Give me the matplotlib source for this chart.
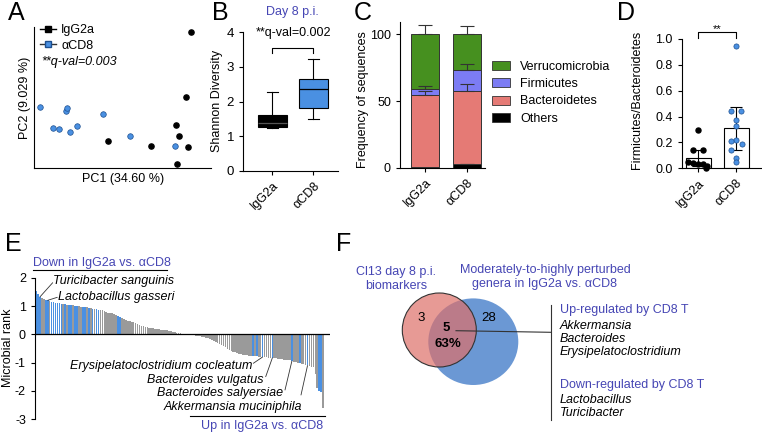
import matplotlib
matplotlib.use("Agg")
import matplotlib.pyplot as plt
from matplotlib.transforms import Affine2D
from matplotlib.patches import Ellipse, Patch
from matplotlib.lines import Line2D

# ---------------- data ----------------
# A: PCoA (scaled axis units)
igg_pc1 = [0.885, 0.859, 0.800, 0.819, 0.420, 0.659, 0.872, 0.810]
igg_pc2 = [0.967, 0.506, 0.305, 0.229, 0.193, 0.156, 0.149, 0.026]
cd8_pc1 = [0.034, 0.181, 0.188, 0.388, 0.109, 0.143, 0.245, 0.203, 0.542, 0.795]
cd8_pc2 = [0.435, 0.404, 0.423, 0.381, 0.286, 0.274, 0.300, 0.253, 0.227, 0.156]

# B: Shannon diversity boxes
groups = ["IgG2a", "αCD8"]
sh_min = [1.22, 1.48]
sh_q1 = [1.27, 1.80]
sh_med = [1.37, 2.35]
sh_q3 = [1.61, 2.65]
sh_max = [2.27, 3.22]

# C: stacked phyla frequencies
phyla = ["Others", "Bacteroidetes", "Firmicutes", "Verrucomicrobia"]
freq_igg = [0.5, 53.8, 4.5, 41.2]
freq_cd8 = [2.5, 55.0, 15.8, 26.7]
err_igg = [0.0, 3.0, 2.7, 7.0]
err_cd8 = [0.5, 5.0, 4.2, 6.3]

# D: Firmicutes/Bacteroidetes ratio
fb_igg = [0.30, 0.14, 0.14, 0.05, 0.04, 0.03, 0.03, 0.02, 0.005]
fb_cd8 = [0.946, 0.44, 0.44, 0.374, 0.327, 0.219, 0.213, 0.186, 0.142, 0.082, 0.046]
fb_mean = [0.08, 0.31]
fb_err = [0.06, 0.165]

# E: microbial ranks
rank = [1.54, 1.42, 1.32, 1.28, 1.25, 1.22, 1.20, 1.17, 1.15,
        1.13, 1.11, 1.10, 1.09, 1.08, 1.07, 1.06, 1.05, 1.04,
        1.03, 1.02, 1.01, 1.00, 0.99, 0.98, 0.97, 0.96, 0.95,
        0.93, 0.92, 0.90, 0.89, 0.88, 0.87, 0.86, 0.85,
        0.82, 0.79, 0.77, 0.76, 0.74, 0.72,
        0.68, 0.65, 0.62, 0.58, 0.55, 0.50,
        0.48, 0.46, 0.44, 0.42, 0.40, 0.37, 0.34, 0.31, 0.29, 0.27,
        0.25, 0.24, 0.22, 0.21, 0.20, 0.19, 0.18, 0.17, 0.16, 0.15, 0.14, 0.13,
        0.11, 0.09, 0.07, 0.05, 0.04, 0.03, 0.02, 0.01,
        -0.01, -0.02, -0.02, -0.03, -0.04, -0.05, -0.06, -0.07, -0.08, -0.10,
        -0.12, -0.14, -0.16, -0.19, -0.22, -0.26, -0.30, -0.34, -0.38,
        -0.42, -0.46, -0.50, -0.54, -0.58, -0.61, -0.64, -0.67, -0.69,
        -0.71, -0.72, -0.73, -0.74, -0.75, -0.76, -0.77, -0.78, -0.78, -0.79,
        -0.80, -0.80, -0.81, -0.81, -0.82, -0.82, -0.83, -0.84, -0.85, -0.86,
        -0.87, -0.88, -0.89, -0.90, -0.91, -0.92, -0.94, -0.96, -0.98, -1.00,
        -1.02, -1.04, -1.06, -1.08, -1.10, -1.12, -1.14, -1.16,
        -1.40, -1.90, -2.00, -2.05, -2.60]
blue_idx = [0, 1, 2, 5, 6, 8, 9, 10, 11, 12, 13, 15, 17, 18, 20, 21, 24, 25, 27,
            29, 31, 32, 42, 43, 111, 113, 116, 121, 131, 135, 139, 145, 146]
named_taxa = ["Turicibacter sanguinis", "Lactobacillus gasseri",
              "Erysipelatoclostridium cocleatum", "Bacteroides vulgatus",
              "Bacteroides salyersiae", "Akkermansia muciniphila"]
named_idx = [2, 6, 116, 121, 131, 139]

# F: venn counts
only_biomarker = 3
shared = 5
only_perturbed = 28
up_genera = ["Akkermansia", "Bacteroides", "Erysipelatoclostridium"]
down_genera = ["Lactobacillus", "Turicibacter"]

# ---------------- style ----------------
plt.rcParams["font.family"] = ["Liberation Sans", "DejaVu Sans"]
plt.rcParams["font.size"] = 8.5
plt.rcParams["axes.unicode_minus"] = False
plt.rcParams["axes.linewidth"] = 0.8
plt.rcParams["xtick.major.width"] = 0.8
plt.rcParams["ytick.major.width"] = 0.8
plt.rcParams["xtick.major.size"] = 3
plt.rcParams["ytick.major.size"] = 3

BLUE = "#4a90e2"
NAVY = "#4646b4"
W, H = 762, 434
fig = plt.figure(figsize=(W / 100, H / 100), dpi=100)
PX = Affine2D().scale(1 / W, -1 / H).translate(0, 1) + fig.transFigure


def box(l, t, r, b):
    ax = fig.add_axes([l / W, 1 - b / H, (r - l) / W, (b - t) / H])
    ax.spines[["top", "right"]].set_visible(False)
    ax.patch.set_alpha(0)
    return ax


for letter, (lx, ly) in zip("ABCDEF", [(16, 13), (220, 13), (363, 13), (626, 13), (13, 244), (344, 244)]):
    fig.text(lx, ly, letter, transform=PX, fontsize=18, ha="center", va="center")

# ---------------- A ----------------
ax = box(34, 27, 211, 168)
ax.scatter(igg_pc1, igg_pc2, s=14, color="black", zorder=3, clip_on=False)
ax.scatter(cd8_pc1, cd8_pc2, s=16, color=BLUE, edgecolor="#1d4f8f", lw=0.5, zorder=3, clip_on=False)
ax.set_xlim(0, 1)
ax.set_ylim(0, 1)
ax.set_xticks([])
ax.set_yticks([])
ax.set_xlabel("PC1 (34.60 %)", fontsize=9)
ax.set_ylabel("PC2 (9.029 %)", fontsize=9)
ax.xaxis.set_label_coords(123, 173, transform=PX)
ax.yaxis.set_label_coords(31, 98, transform=PX)
h1 = Line2D([], [], color="black", marker="s", ms=4, lw=1)
h2 = Line2D([], [], color="#333333", marker="s", ms=4.5, mfc=BLUE, mec="#1d4f8f", lw=1)
ax.legend([h1, h2], groups, loc="upper left", bbox_to_anchor=(40, 24), bbox_transform=PX,
          frameon=False, fontsize=9, handlelength=1.3, handletextpad=0.4,
          labelspacing=0.3, borderpad=0, borderaxespad=0)
fig.text(41, 62, "**q-val=0.003", transform=PX, style="italic", fontsize=9, va="center")

# ---------------- B ----------------
ax = box(243, 32.3, 338, 170.7)
stats = [dict(whislo=a, q1=b, med=c, q3=d, whishi=e, fliers=[])
         for a, b, c, d, e in zip(sh_min, sh_q1, sh_med, sh_q3, sh_max)]
bp = ax.bxp(stats, positions=[1, 2], widths=0.7, patch_artist=True, showfliers=False,
            capwidths=0.25, boxprops=dict(lw=0.8), whiskerprops=dict(lw=0.8),
            capprops=dict(lw=0.8), medianprops=dict(color="black", lw=0.9))
bp["boxes"][0].set_facecolor("black")
bp["boxes"][1].set_facecolor(BLUE)
bp["medians"][0].set_color("#555555")
ax.set_xlim(0.28, 2.6)
ax.set_ylim(0, 4)
ax.set_yticks([0, 1, 2, 3, 4])
ax.tick_params(labelsize=9.5)
ax.set_xticks([1, 2])
ax.set_xticklabels(groups, rotation=45, ha="right", rotation_mode="anchor", fontsize=9)
ax.plot([1, 1, 2, 2], [3.39, 3.54, 3.54, 3.39], color="black", lw=0.8, clip_on=False)
ax.text(1.51, 3.98, "**q-val=0.002", ha="center", va="center", fontsize=9, clip_on=False)
ax.set_ylabel("Shannon Diversity", fontsize=9)
ax.yaxis.set_label_coords(223, 101, transform=PX)
fig.text(292, 12.5, "Day 8 p.i.", transform=PX, color=NAVY, fontsize=9, ha="center", va="center")

# ---------------- C ----------------
ax = box(400, 21.7, 485, 167.7)
phyla_colors = ["#000000", "#e57a75", "#7c7cf4", "#46901f"]
xpos = [0, 1]
bottom = [0.0, 0.0]
handles = []
for k, name in enumerate(phyla):
    hgt = [freq_igg[k], freq_cd8[k]]
    ax.bar(xpos, hgt, 0.67, bottom=bottom, color=phyla_colors[k], edgecolor="#333333", lw=0.7)
    tops = [bottom[0] + hgt[0], bottom[1] + hgt[1]]
    errs = [err_igg[k], err_cd8[k]]
    for xi, ti, ei in zip(xpos, tops, errs):
        if ei > 0:
            ax.errorbar([xi], [ti], yerr=[[0], [ei]], fmt="none", ecolor="#333333",
                        elinewidth=0.8, capsize=5, capthick=0.8)
    bottom = tops
    handles.append(Patch(facecolor=phyla_colors[k], edgecolor="#333333", lw=0.6))
ax.set_xlim(-0.595, 1.43)
ax.set_ylim(0, 109.5)
ax.set_yticks([0, 50, 100])
ax.set_xticks(xpos)
ax.set_xticklabels(groups, rotation=45, ha="right", rotation_mode="anchor", fontsize=9)
ax.tick_params(labelsize=9)
ax.set_ylabel("Frequency of sequences", fontsize=9)
ax.yaxis.set_label_coords(369, 100, transform=PX)
ax.legend(handles[::-1], phyla[::-1], loc="upper left", bbox_to_anchor=(492, 61),
          bbox_transform=PX, frameon=False, fontsize=9, handlelength=1.45,
          handleheight=0.75, handletextpad=0.8, labelspacing=0.42, borderpad=0, borderaxespad=0)

# ---------------- D ----------------
ax = box(681.7, 39, 761, 168.3)
jit_igg = [0.0, -0.13, 0.12, -0.27, -0.13, 0.0, 0.12, 0.24, 0.2]
jit_cd8 = [0.0, -0.14, 0.13, 0.0, 0.0, 0.0, -0.14, 0.15, -0.13, 0.0, 0.0]
ax.bar([0, 1], fb_mean, 0.67, color="white", edgecolor="black", lw=0.8, zorder=1)
ax.errorbar([0, 1], fb_mean, yerr=fb_err, fmt="none", ecolor="black", elinewidth=0.8,
            capsize=4, capthick=0.8, zorder=2)
ax.scatter(jit_igg, fb_igg, s=13, color="black", zorder=3, clip_on=False)
ax.scatter([1 + j for j in jit_cd8], fb_cd8, s=14, color=BLUE, edgecolor="#1d4f8f",
           lw=0.5, zorder=3, clip_on=False)
ax.set_xlim(-0.435, 1.65)
ax.set_ylim(0, 1.0)
ax.set_yticks([0, 0.2, 0.4, 0.6, 0.8, 1.0])
ax.set_yticklabels(["0.0", "0.2", "0.4", "0.6", "0.8", "1.0"])
ax.tick_params(labelsize=9)
ax.set_xticks([0, 1])
ax.set_xticklabels(groups, rotation=45, ha="right", rotation_mode="anchor", fontsize=9)
ax.plot([0, 0, 1, 1], [1.005, 1.056, 1.056, 1.005], color="black", lw=0.8, clip_on=False)
ax.text(0.5, 1.075, "**", ha="center", va="center", fontsize=8, clip_on=False)
ax.set_ylabel("Firmicutes/Bacteroidetes", fontsize=9)
ax.yaxis.set_label_coords(643, 100, transform=PX)

# ---------------- E ----------------
ax = box(35, 277.7, 330, 419.3)
ax.spines["bottom"].set_visible(False)
bar_colors = [BLUE if i in blue_idx else "#9a9a9a" for i in range(len(rank))]
ax.bar(range(len(rank)), rank, 0.85, color=bar_colors, lw=0)
ax.axhline(0, color="black", lw=0.9)
ax.set_xlim(-0.5, 150.5)
ax.set_ylim(-3, 2)
ax.set_xticks([])
ax.set_yticks([-3, -2, -1, 0, 1, 2])
ax.tick_params(labelsize=9)
ax.set_ylabel("Microbial rank", fontsize=9)
ax.yaxis.set_label_coords(14, 348, transform=PX)
label_pos = [(53, 281, "left", 52.7, 282.7), (58.5, 297, "left", 57.3, 297.3),
             (252.3, 365.7, "right", 253.3, 363.3), (263.3, 379.7, "right", 265.7, 376.7),
             (283.3, 392.7, "right", 285, 390), (301.7, 406.7, "right", 301, 395)]
for name, idx, (tx, ty, ha, lx, ly) in zip(named_taxa, named_idx, label_pos):
    ax.text(tx, ty, name, transform=PX, style="italic", fontsize=9, ha=ha, va="center")
    ax.annotate("", xy=(idx, rank[idx]), xytext=(lx, ly), textcoords=PX, annotation_clip=False,
                arrowprops=dict(arrowstyle="-", lw=0.6, color="#333333", shrinkA=0, shrinkB=0))
fig.text(33.3, 262.7, "Down in IgG2a vs. αCD8", transform=PX, color=NAVY, fontsize=9, va="center")
fig.add_artist(Line2D([33, 167], [270, 270], transform=PX, color="black", lw=0.8))
fig.text(323.3, 426, "Up in IgG2a vs. αCD8", transform=PX, color=NAVY, fontsize=9, va="center", ha="right")
fig.add_artist(Line2D([190, 325], [416, 416], transform=PX, color="black", lw=0.8))

# ---------------- F ----------------
axf = fig.add_axes([0, 0, 1, 1])
axf.set_xlim(0, W)
axf.set_ylim(H, 0)
axf.axis("off")
axf.add_patch(Ellipse((473.3, 341.7), 90, 86.6, facecolor="#6b98d4", edgecolor="none"))
axf.add_patch(Ellipse((439.3, 330), 74, 74, facecolor="#de7069", alpha=0.7, edgecolor="none"))
axf.add_patch(Ellipse((439.3, 330), 74, 74, facecolor="none", edgecolor="#333333", lw=0.8))
axf.text(421, 317.7, str(only_biomarker), fontsize=9.5, ha="center", va="center")
axf.text(489, 317.7, str(only_perturbed), fontsize=9.5, ha="center", va="center")
axf.text(446.7, 327.7, str(shared), fontsize=9.5, fontweight="bold", ha="center", va="center")
pct = int(100 * shared / (shared + only_biomarker) + 0.5)
axf.text(448.3, 344.3, f"{pct}%", fontsize=9.5, fontweight="bold", ha="center", va="center")
axf.plot([456, 550.7], [330.7, 332.3], color="#333333", lw=0.8)
axf.plot([550.7, 550.7], [305, 420], color="#333333", lw=0.8)
axf.text(396, 279, "Cl13 day 8 p.i.\nbiomarkers", color=NAVY, fontsize=9, ha="center",
         va="center", linespacing=1.2)
axf.text(545, 277, "Moderately-to-highly perturbed\ngenera in IgG2a vs. αCD8", color=NAVY,
         fontsize=9, ha="center", va="center", linespacing=1.2)
axf.text(560, 310, "Up-regulated by CD8 T", color=NAVY, fontsize=9, va="center")
for k, g in enumerate(up_genera):
    axf.text(560, 325.7 + 13.2 * k, g, style="italic", fontsize=9, va="center")
axf.text(560, 384.7, "Down-regulated by CD8 T", color=NAVY, fontsize=9, va="center")
for k, g in enumerate(down_genera):
    axf.text(560, 400 + 13.3 * k, g, style="italic", fontsize=9, va="center")

fig.savefig("out.png", dpi=100)
